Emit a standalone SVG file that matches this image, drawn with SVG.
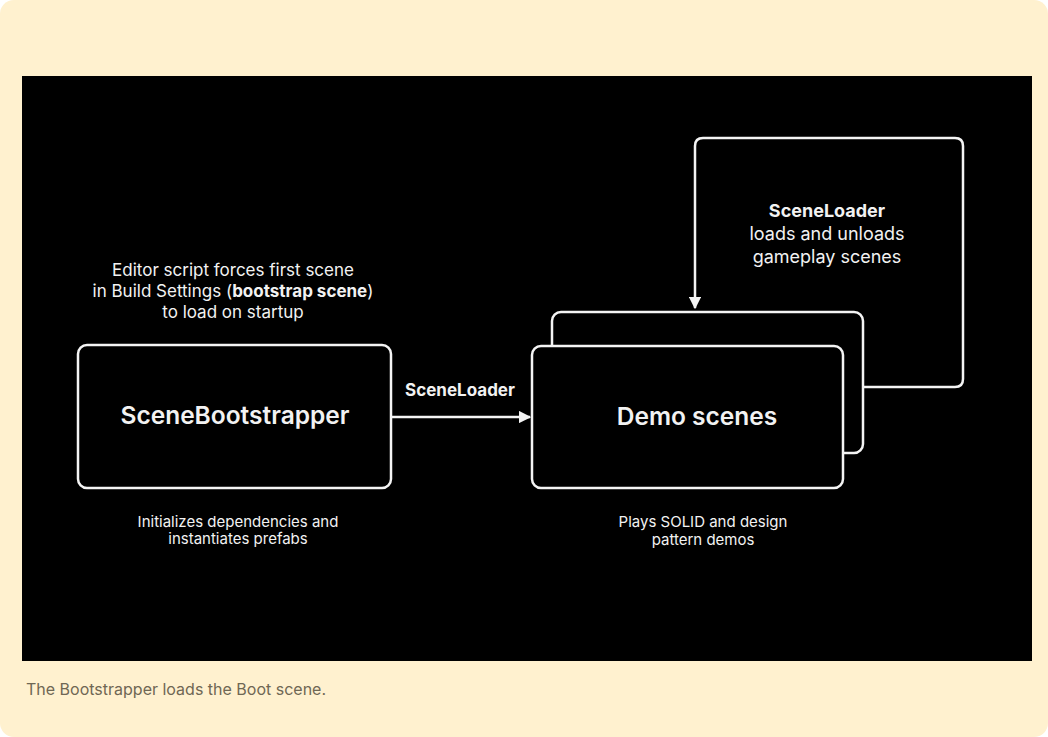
<svg xmlns="http://www.w3.org/2000/svg" width="1048" height="737" viewBox="0 0 1048 737">
<defs>
<style>
.t{font-family:Inter,"Liberation Sans",sans-serif;fill:#f2f2f2;text-anchor:middle}
.box{fill:#000;stroke:#f4f4f4;stroke-width:2.5}
.line{fill:none;stroke:#f4f4f4;stroke-width:2.5}
</style>
<marker id="ah" viewBox="0 0 10 10" refX="9" refY="5" markerWidth="5" markerHeight="5" markerUnits="strokeWidth" orient="auto">
<path d="M0,0 L10,5 L0,10 z" fill="#f4f4f4"/>
</marker>
</defs>
<rect x="0" y="0" width="1048" height="737" fill="#ffffff"/>
<rect x="0" y="0" width="1048" height="737" rx="14" fill="#fff1cf"/>
<rect x="22" y="76" width="1010" height="585" fill="#000"/>
<text x="26" y="695" style="font-family:Inter,'Liberation Sans',sans-serif;font-size:16px;fill:#6f6754">The Bootstrapper loads the Boot scene.</text>

<g id="connectors">
<path class="line" d="M863,387 H955 Q963,387 963,379 V146 Q963,138 955,138 H703 Q695,138 695,146 V308" marker-end="url(#ah)"/>
<line class="line" x1="391" y1="417" x2="530" y2="417" marker-end="url(#ah)"/>
<text class="t" x="460" y="396" style="font-size:17px;font-weight:700">SceneLoader</text>
</g>

<g id="note-top">
<text class="t" x="233" y="276" style="font-size:17px">Editor script forces first scene</text>
<text class="t" x="233" y="297" style="font-size:17px">in Build Settings (<tspan font-weight="700">bootstrap scene</tspan>)</text>
<text class="t" x="233" y="318" style="font-size:17px">to load on startup</text>
</g>

<g id="scene-bootstrapper">
<rect class="box" x="78" y="345" width="313" height="143" rx="9"/>
<text class="t" x="235" y="424" style="font-size:24.5px;font-weight:600">SceneBootstrapper</text>
<text class="t" x="238" y="527" style="font-size:15px">Initializes dependencies and</text>
<text class="t" x="238" y="544" style="font-size:15px">instantiates prefabs</text>
</g>

<g id="loader-note">
<text class="t" x="827" y="217" style="font-size:18px;font-weight:700">SceneLoader</text>
<text class="t" x="827" y="240" style="font-size:18px">loads and unloads</text>
<text class="t" x="827" y="263" style="font-size:18px">gameplay scenes</text>
</g>

<g id="demo-scenes">
<rect class="box" x="552" y="312" width="311" height="141" rx="9"/>
<rect class="box" x="532" y="346" width="311" height="142" rx="9"/>
<text class="t" x="697" y="425" style="font-size:24.5px;font-weight:600">Demo scenes</text>
<text class="t" x="703" y="527" style="font-size:15px">Plays SOLID and design</text>
<text class="t" x="703" y="545" style="font-size:15px">pattern demos</text>
</g>
</svg>
